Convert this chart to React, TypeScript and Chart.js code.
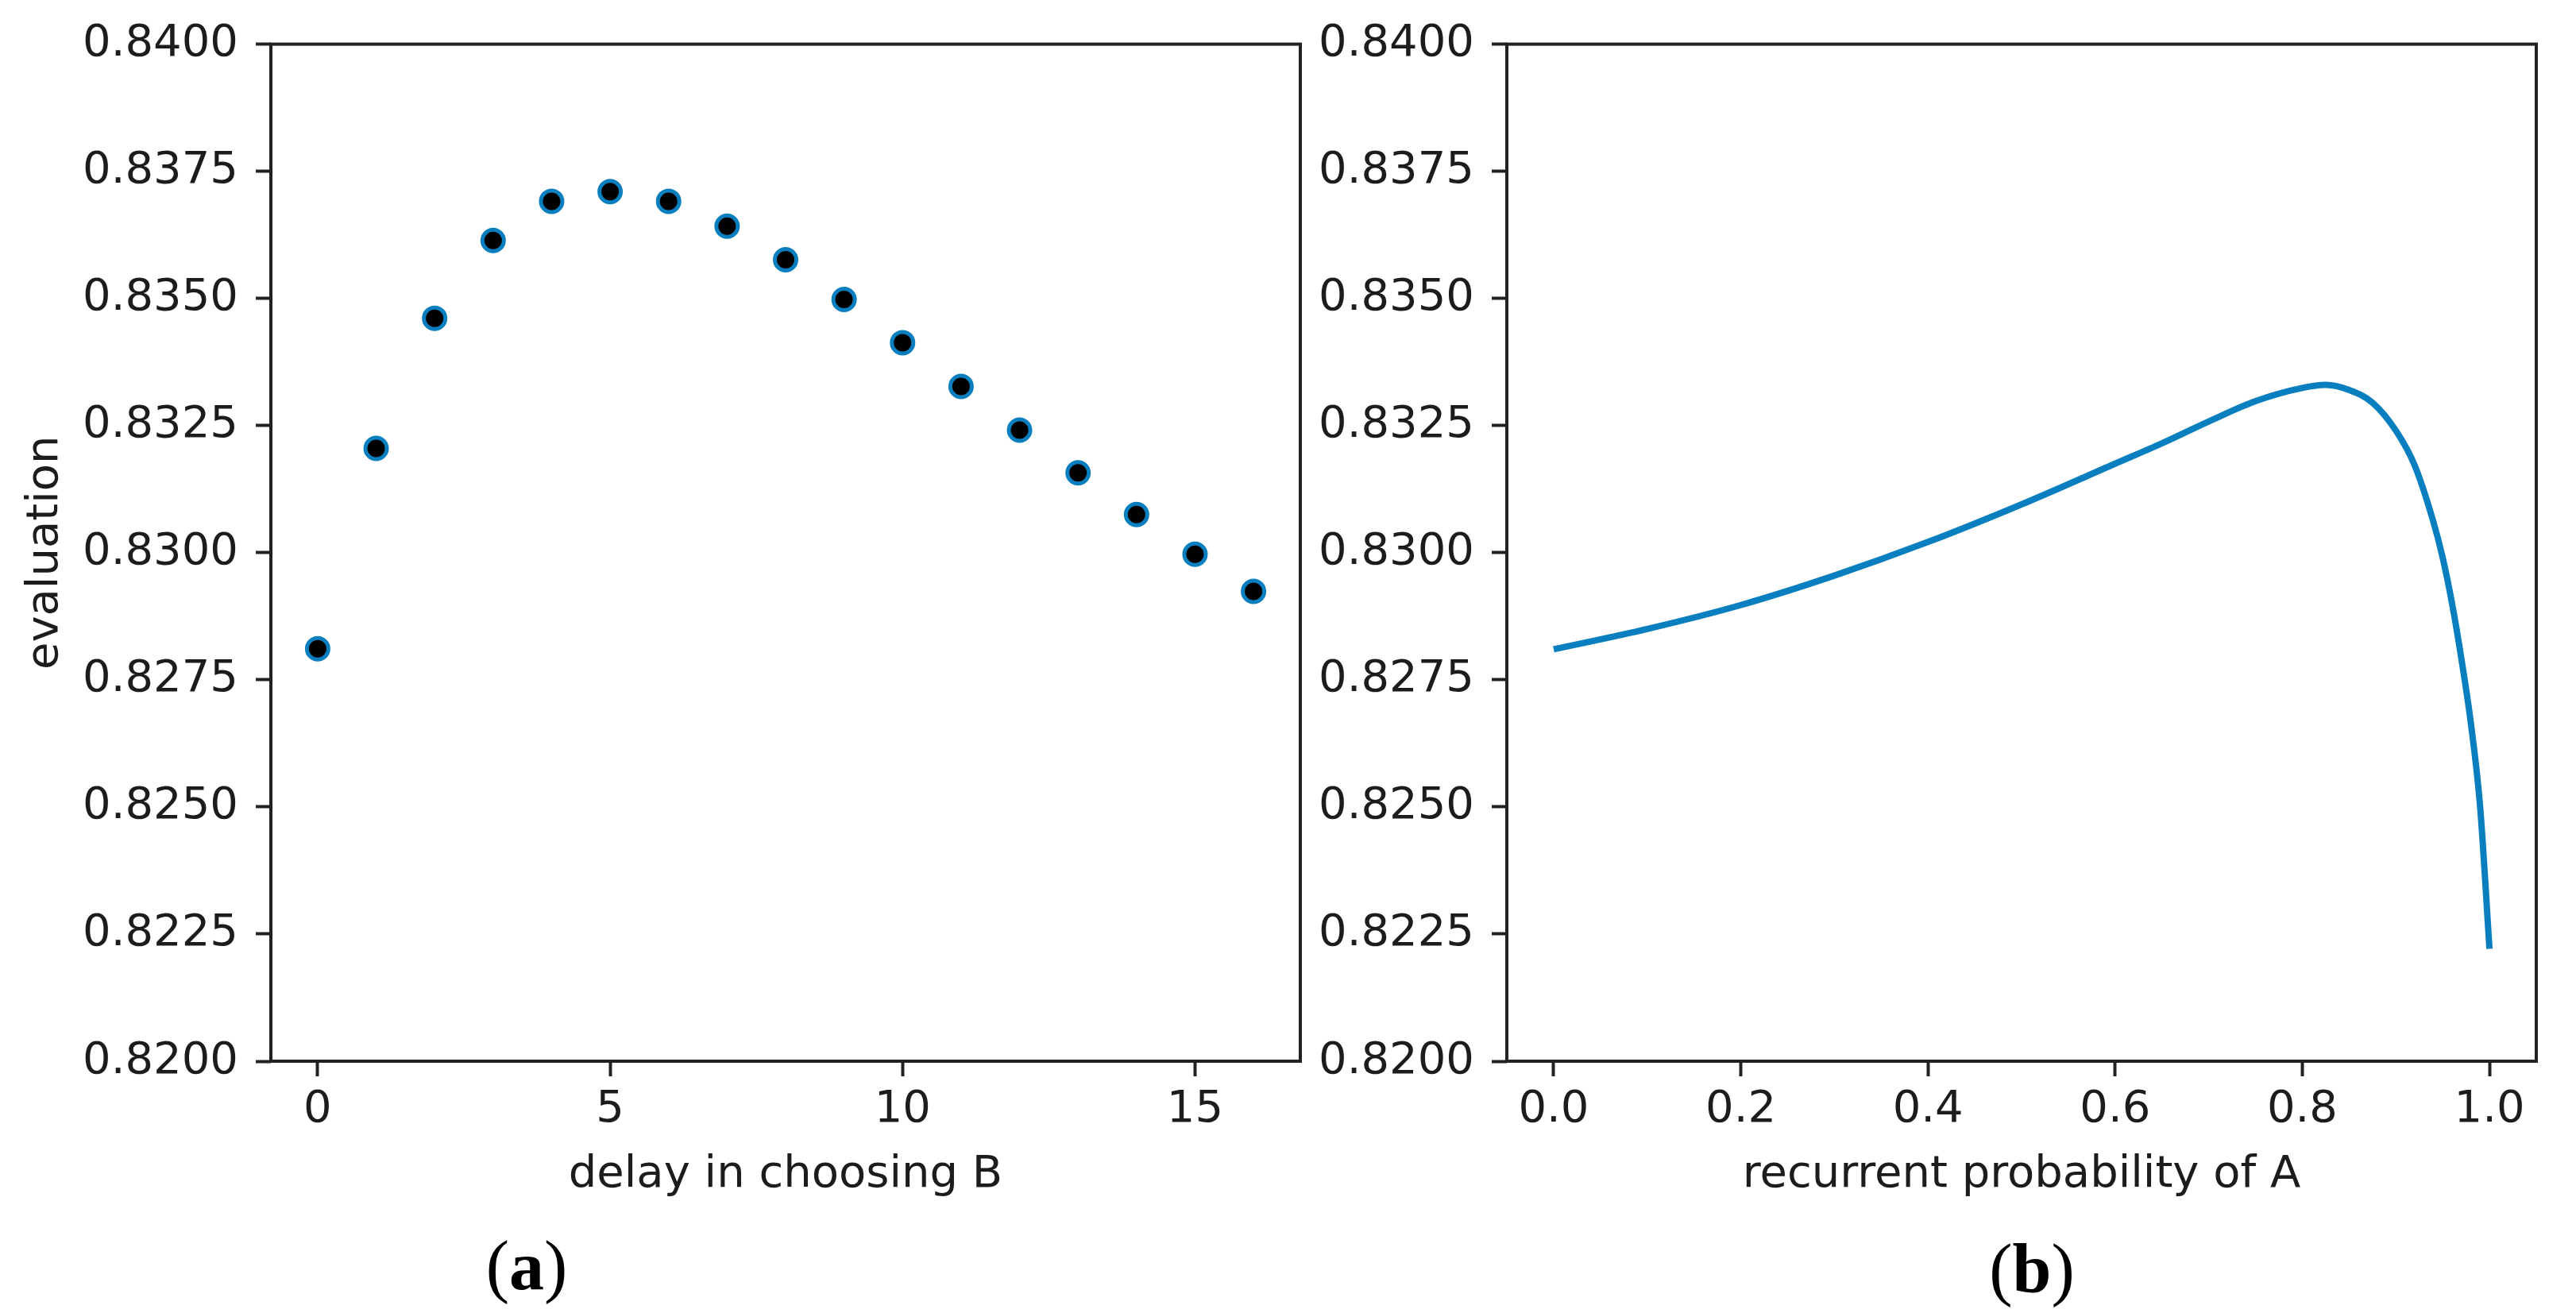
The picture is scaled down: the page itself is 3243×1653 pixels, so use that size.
import React, { useEffect, useRef } from 'react';
import { Chart, registerables } from 'chart.js';

Chart.register(...registerables);

// panel (a): evaluation against delay in choosing B
const delays = [0, 1, 2, 3, 4, 5, 6, 7, 8, 9, 10, 11, 12, 13, 14, 15, 16];
const delayEvaluation = [
    0.82811, 0.83205, 0.83461, 0.83614, 0.83691, 0.8371, 0.83691, 0.83642, 0.83576,
    0.83498, 0.83413, 0.83327, 0.83241, 0.83157, 0.83075, 0.82997, 0.82924,
];

// panel (b): evaluation against recurrent probability of A
const recurrentProb = [
    0, 0.1, 0.2, 0.3, 0.4, 0.5, 0.6, 0.65, 0.7, 0.75, 0.8, 0.825, 0.85, 0.875, 0.9, 0.92,
    0.94, 0.95, 0.96, 0.97, 0.98, 0.99, 1.0,
];
const recurrentEvaluation = [
    0.8281, 0.8285, 0.82897, 0.82955, 0.83021, 0.83095, 0.83175, 0.83215, 0.83258, 0.83298,
    0.83324, 0.8333, 0.8332, 0.83295, 0.8324, 0.83172, 0.83061, 0.8299, 0.829, 0.82791,
    0.82666, 0.825, 0.82221,
];

// tick values
const yTicks = [0.82, 0.8225, 0.825, 0.8275, 0.83, 0.8325, 0.835, 0.8375, 0.84];
const delayTicks = [0, 5, 10, 15];
const probTicks = [0, 0.2, 0.4, 0.6, 0.8, 1.0];

const FONT = 'DejaVu Sans';
const INK = '#1c1c1c';
const BLUE = '#0a7fbf';
const CANVAS_H = 1540;

// matplotlib-like full box round the plot area
const framePlugin = {
    id: 'frame',
    afterDraw(chart: Chart) {
        const { ctx, chartArea: a } = chart;
        ctx.save();
        ctx.strokeStyle = '#222';
        ctx.lineWidth = 4;
        ctx.strokeRect(a.left, a.top, a.right - a.left, a.bottom - a.top);
        ctx.restore();
    },
};

const tickFont = { family: FONT, size: 56 };

const buildScales = (opts: {
    xMin: number;
    xMax: number;
    xTicks: number[];
    xDigits: number;
    xTitle: string;
    yTitle?: string;
    yWidth: number;
}) => ({
    x: {
        type: 'linear' as const,
        min: opts.xMin,
        max: opts.xMax,
        afterBuildTicks: (axis: any) => {
            axis.ticks = opts.xTicks.map((v) => ({ value: v }));
        },
        afterFit: (axis: any) => {
            axis.height = CANVAS_H - 1336;
        },
        ticks: {
            font: tickFont,
            color: INK,
            padding: 9,
            maxRotation: 0,
            autoSkip: false,
            callback: (v: any) => Number(v).toFixed(opts.xDigits),
        },
        grid: {
            drawOnChartArea: false,
            drawTicks: true,
            tickLength: 19,
            tickWidth: 4,
            tickColor: '#222',
        },
        border: { display: false },
        title: {
            display: true,
            text: opts.xTitle,
            font: tickFont,
            color: INK,
            padding: { top: 0, bottom: 27 },
        },
    },
    y: {
        type: 'linear' as const,
        min: 0.82,
        max: 0.84,
        afterBuildTicks: (axis: any) => {
            axis.ticks = yTicks.map((v) => ({ value: v }));
        },
        afterFit: (axis: any) => {
            axis.width = opts.yWidth;
        },
        ticks: {
            font: tickFont,
            color: INK,
            padding: 22,
            autoSkip: false,
            callback: (v: any) => Number(v).toFixed(4),
        },
        grid: {
            drawOnChartArea: false,
            drawTicks: true,
            tickLength: 19,
            tickWidth: 4,
            tickColor: '#222',
        },
        border: { display: false },
        title: {
            display: !!opts.yTitle,
            text: opts.yTitle || '',
            font: tickFont,
            color: INK,
            padding: { top: 24, bottom: 0 },
        },
    },
});

const DelayPanel: React.FC = () => {
    const canvasRef = useRef<HTMLCanvasElement>(null);

    useEffect(() => {
        if (!canvasRef.current) return;
        const chart = new Chart(canvasRef.current, {
            type: 'scatter',
            data: {
                datasets: [
                    {
                        data: delays.map((d, i) => ({ x: d, y: delayEvaluation[i] })),
                        backgroundColor: '#000',
                        borderColor: BLUE,
                        pointRadius: 13.5,
                        pointBorderWidth: 5,
                        pointHoverRadius: 13.5,
                    },
                ],
            },
            options: {
                animation: false,
                responsive: false,
                devicePixelRatio: 1,
                layout: { padding: { left: 0, top: 53, right: 23, bottom: 0 } },
                plugins: { legend: { display: false }, tooltip: { enabled: false } },
                scales: buildScales({
                    xMin: -0.8,
                    xMax: 16.8,
                    xTicks: delayTicks,
                    xDigits: 0,
                    xTitle: 'delay in choosing B',
                    yTitle: 'evaluation',
                    yWidth: 341,
                }),
            },
            plugins: [framePlugin],
        });
        return () => chart.destroy();
    }, []);

    return (
        <canvas
            ref={canvasRef}
            width={1660}
            height={CANVAS_H}
            style={{ position: 'absolute', left: 0, top: 0, width: 1660, height: CANVAS_H }}
        />
    );
};

const ProbabilityPanel: React.FC = () => {
    const canvasRef = useRef<HTMLCanvasElement>(null);

    useEffect(() => {
        if (!canvasRef.current) return;
        const chart = new Chart(canvasRef.current, {
            type: 'scatter',
            data: {
                datasets: [
                    {
                        data: recurrentProb.map((p, i) => ({ x: p, y: recurrentEvaluation[i] })),
                        showLine: true,
                        borderColor: BLUE,
                        borderWidth: 8,
                        pointRadius: 0,
                        pointHoverRadius: 0,
                        cubicInterpolationMode: 'monotone',
                    },
                ],
            },
            options: {
                animation: false,
                responsive: false,
                devicePixelRatio: 1,
                layout: { padding: { left: 0, top: 53, right: 50, bottom: 0 } },
                plugins: { legend: { display: false }, tooltip: { enabled: false } },
                scales: buildScales({
                    xMin: -0.05,
                    xMax: 1.05,
                    xTicks: probTicks,
                    xDigits: 1,
                    xTitle: 'recurrent probability of A',
                    yWidth: 297,
                }),
            },
            plugins: [framePlugin],
        });
        return () => chart.destroy();
    }, []);

    return (
        <canvas
            ref={canvasRef}
            width={1643}
            height={CANVAS_H}
            style={{ position: 'absolute', left: 1600, top: 0, width: 1643, height: CANVAS_H }}
        />
    );
};

const PanelTag: React.FC<{ letter: string; x: number; y: number }> = ({ letter, x, y }) => (
    <div
        style={{
            position: 'absolute',
            left: x,
            top: y,
            transform: 'translate(-50%, -50%)',
            fontFamily: '"Liberation Serif", serif',
            fontSize: 88,
            lineHeight: 1,
            color: '#000',
            whiteSpace: 'nowrap',
        }}
    >
        (<b>{letter}</b>)
    </div>
);

export default function App() {
    return (
        <div
            style={{
                position: 'absolute',
                left: 0,
                top: 0,
                width: 3243,
                height: 1653,
                background: '#fff',
                overflow: 'hidden',
            }}
        >
            <DelayPanel />
            <ProbabilityPanel />
            <PanelTag letter="a" x={663} y={1594} />
            <PanelTag letter="b" x={2558} y={1598} />
        </div>
    );
}
